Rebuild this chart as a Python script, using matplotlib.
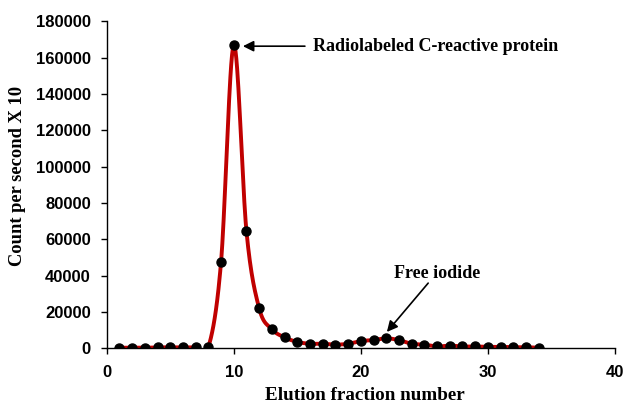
import numpy as np
import matplotlib
matplotlib.use("Agg")
import matplotlib.pyplot as plt

fractions = list(range(1, 35))
counts = [300, 300, 300, 500, 500, 500, 500, 500, 47500, 167000, 64500, 22000,
          10500, 6000, 3500, 2500, 2500, 2000, 2500, 4000, 4500, 5500, 4500, 2500,
          2000, 1000, 1500, 1000, 1000, 800, 800, 600, 600, 300]
x_ticks = [0, 10, 20, 30, 40]
y_ticks = [0, 20000, 40000, 60000, 80000, 100000, 120000, 140000, 160000, 180000]

def catmull_rom(x, y, n=30):
    x = np.asarray(x, float); y = np.asarray(y, float)
    px = np.concatenate([[2*x[0]-x[1]], x, [2*x[-1]-x[-2]]])
    py = np.concatenate([[2*y[0]-y[1]], y, [2*y[-1]-y[-2]]])
    xs, ys = [], []
    for i in range(1, len(px)-2):
        t = np.linspace(0, 1, n, endpoint=False)[:, None]
        p0, p1, p2, p3 = [np.array([px[j], py[j]]) for j in (i-1, i, i+1, i+2)]
        pts = 0.5*((2*p1) + (-p0+p2)*t + (2*p0-5*p1+4*p2-p3)*t**2 + (-p0+3*p1-3*p2+p3)*t**3)
        xs.extend(pts[:, 0]); ys.extend(pts[:, 1])
    xs.append(x[-1]); ys.append(y[-1])
    return np.array(xs), np.array(ys)

fig = plt.figure(figsize=(6.26, 4.04), dpi=100)
ax = fig.add_axes([0.1704, 0.1379, 0.812, 0.8089])

sx, sy = catmull_rom(fractions, counts)
ax.plot(sx, sy, color="#C00000", lw=2.8, zorder=2)
ax.plot(fractions, counts, "o", color="black", ms=6.5, zorder=3)

ax.set_xlim(0, 40)
ax.set_ylim(0, 180000)
ax.set_xticks(x_ticks)
ax.set_yticks(y_ticks)
for s in ["top", "right"]:
    ax.spines[s].set_visible(False)
for s in ["left", "bottom"]:
    ax.spines[s].set_linewidth(1.0)
ax.tick_params(direction="out", length=4.3, width=1)
ax.tick_params(axis="x", pad=8)
ax.tick_params(axis="y", pad=7)
for lab in ax.get_xticklabels() + ax.get_yticklabels():
    lab.set_fontfamily("Liberation Sans")
    lab.set_fontweight("bold")
    lab.set_fontsize(12)

ax.set_xlabel("Elution fraction number", fontfamily="Liberation Serif",
              fontweight="bold", fontsize=13.8, va="baseline")
ax.xaxis.set_label_coords(0.508, -0.158)
ax.set_ylabel("Count per second X 10", fontfamily="Liberation Serif",
              fontweight="bold", fontsize=13.3, va="center")
ax.yaxis.set_label_coords(-0.1755, 0.527)

ax.annotate("", xy=(10.72, 166400), xytext=(15.6, 166400),
            arrowprops=dict(arrowstyle="-|>", color="black", lw=1.2,
                            mutation_scale=16, shrinkA=0, shrinkB=0))
ax.text(16.2, 166400, "Radiolabeled C-reactive protein", fontfamily="Liberation Serif",
        fontweight="bold", fontsize=13, va="center", ha="left")

ax.annotate("", xy=(22.05, 9000), xytext=(25.3, 35900),
            arrowprops=dict(arrowstyle="-|>", color="black", lw=1.2,
                            mutation_scale=16, shrinkA=0, shrinkB=0))
ax.text(26.0, 41400, "Free iodide", fontfamily="Liberation Serif",
        fontweight="bold", fontsize=13, va="center", ha="center")

fig.savefig("out.png", dpi=100)
